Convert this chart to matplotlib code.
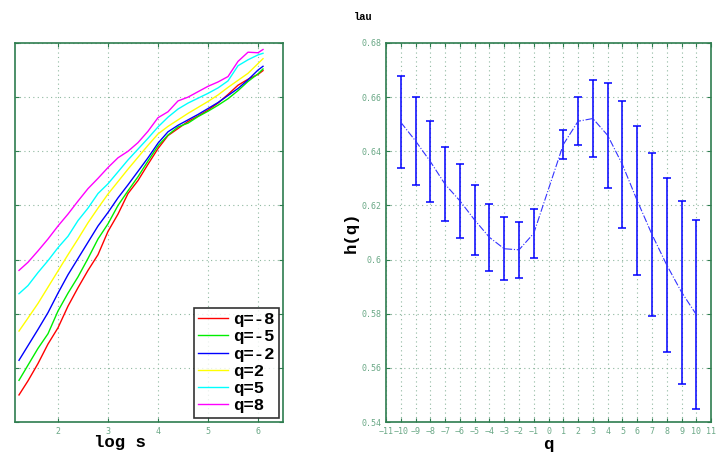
import matplotlib
matplotlib.use("Agg")
import matplotlib.pyplot as plt

# ── Datos: curvas log F(s) vs log s ─────────────────────────
log_s = [1.22, 1.4, 1.6, 1.8, 2.0, 2.2, 2.4, 2.6, 2.8, 3.0, 3.2, 3.4, 3.6,
         3.8, 4.0, 4.2, 4.4, 4.6, 4.8, 5.0, 5.2, 5.4, 5.6, 5.8, 6.0, 6.1]

f_q_m8 = [0.50, 0.76, 1.08, 1.44, 1.74, 2.14, 2.48, 2.80, 3.09, 3.52, 3.84,
          4.22, 4.46, 4.76, 5.05, 5.29, 5.42, 5.55, 5.65, 5.76, 5.89, 6.05,
          6.22, 6.33, 6.42, 6.49]
f_q_m5 = [0.77, 1.05, 1.36, 1.63, 2.05, 2.38, 2.68, 3.02, 3.38, 3.66, 4.00,
          4.27, 4.53, 4.82, 5.10, 5.30, 5.45, 5.52, 5.64, 5.74, 5.85, 5.97,
          6.12, 6.29, 6.43, 6.52]
f_q_m2 = [1.14, 1.41, 1.71, 2.02, 2.38, 2.72, 3.02, 3.32, 3.62, 3.87, 4.14,
          4.38, 4.63, 4.88, 5.15, 5.36, 5.48, 5.58, 5.68, 5.79, 5.90, 6.03,
          6.16, 6.32, 6.50, 6.57]
f_q_2 = [1.68, 1.92, 2.19, 2.49, 2.79, 3.09, 3.38, 3.68, 3.95, 4.21, 4.44,
         4.67, 4.89, 5.11, 5.32, 5.46, 5.58, 5.70, 5.81, 5.92, 6.04, 6.18,
         6.31, 6.44, 6.62, 6.71]
f_q_5 = [2.37, 2.52, 2.76, 2.98, 3.22, 3.43, 3.72, 3.95, 4.22, 4.40, 4.62,
         4.84, 5.04, 5.24, 5.45, 5.63, 5.78, 5.89, 5.98, 6.07, 6.17, 6.30,
         6.58, 6.69, 6.78, 6.81]
f_q_8 = [2.80, 2.95, 3.16, 3.38, 3.62, 3.84, 4.08, 4.31, 4.50, 4.70, 4.88,
         5.00, 5.16, 5.37, 5.62, 5.73, 5.93, 6.00, 6.10, 6.20, 6.28, 6.38,
         6.66, 6.83, 6.82, 6.88]

curvas = [("q=-8", f_q_m8, "#ff0000"), ("q=-5", f_q_m5, "#00ee00"),
          ("q=-2", f_q_m2, "#0000ff"), ("q=2", f_q_2, "#ffff00"),
          ("q=5", f_q_5, "#00ffff"), ("q=8", f_q_8, "#ff00ff")]

# ── Datos: exponente generalizado h(q) ──────────────────────
q_vals = [-10, -9, -8, -7, -6, -5, -4, -3, -2, -1,
          1, 2, 3, 4, 5, 6, 7, 8, 9, 10]
h_vals = [0.6507, 0.6438, 0.6362, 0.6278, 0.6217, 0.6146, 0.6082, 0.6040,
          0.6036, 0.6097, 0.6425, 0.6511, 0.6521, 0.6459, 0.6351, 0.6218,
          0.6093, 0.5980, 0.5880, 0.5797]
h_err = [0.0170, 0.0162, 0.0151, 0.0137, 0.0137, 0.0130, 0.0123, 0.0117,
         0.0104, 0.0091, 0.0054, 0.0089, 0.0142, 0.0193, 0.0234, 0.0274,
         0.0300, 0.0322, 0.0338, 0.0348]

# ── Estilo ──────────────────────────────────────────────────
SPINE = "#2e7d4f"
TICKLBL = "#6aa886"
GRID = "#8fb8a0"
MONO = "Liberation Mono"


def estilo_ejes(ax):
    for sp in ax.spines.values():
        sp.set_color(SPINE)
        sp.set_linewidth(1.2)
    ax.tick_params(direction="in", colors=SPINE, labelcolor=TICKLBL,
                   labelsize=6, length=3, top=True, right=True)
    for lbl in ax.get_xticklabels() + ax.get_yticklabels():
        lbl.set_family("DejaVu Sans Mono")
    ax.grid(True, linestyle=(0, (1, 3)), color=GRID, linewidth=0.8)


fig = plt.figure(figsize=(7.17, 4.55), dpi=100)
fig.patch.set_facecolor("#ffffff")

# ── Panel izquierdo ─────────────────────────────────────────
ax1 = fig.add_axes([0.0209, 0.0725, 0.3738, 0.833])
for nombre, vals, color in curvas:
    ax1.plot(log_s, vals, color=color, linewidth=1.0, label=nombre)
ax1.set_xlim(1.14, 6.5)
ax1.set_ylim(0, 7)
ax1.set_xticks([2, 3, 4, 5, 6])
ax1.set_yticks(range(0, 8))
estilo_ejes(ax1)
ax1.set_yticklabels([])
ax1.set_xlabel("log s", family=MONO, fontweight="bold", fontsize=12.5)
ax1.xaxis.set_label_coords(0.39, -0.033, transform=ax1.transAxes)
ax1.xaxis.label.set_va("top")
leg = ax1.legend(loc="lower right", prop={"family": MONO, "weight": "bold",
                                          "size": 12.5},
                 frameon=True, fancybox=False, handlelength=1.7,
                 borderaxespad=0.25, labelspacing=0.12, handletextpad=0.3,
                 borderpad=0.25)
leg.get_frame().set_edgecolor("black")
leg.get_frame().set_linewidth(1.2)

# ── Panel derecho ───────────────────────────────────────────
ax2 = fig.add_axes([0.5384, 0.0725, 0.4533, 0.833])
ax2.errorbar(q_vals, h_vals, yerr=h_err, fmt="none", ecolor="#0000ff",
             elinewidth=1.1, capsize=3, capthick=1.1)
ax2.plot(q_vals, h_vals, color="#3333ff", linestyle="-.", linewidth=0.8)
ax2.set_xlim(-11, 11)
ax2.set_ylim(0.54, 0.68)
ax2.set_xticks(range(-11, 12))
ax2.set_yticks([0.54, 0.56, 0.58, 0.6, 0.62, 0.64, 0.66, 0.68])
ax2.set_yticklabels(["0.54", "0.56", "0.58", "0.6", "0.62", "0.64",
                     "0.66", "0.68"])
ax2.set_xticklabels([str(v).replace("-", "\u2212") for v in range(-11, 12)])
estilo_ejes(ax2)
ax2.set_xlabel("q", family=MONO, fontweight="bold", fontsize=12.5, labelpad=1)
ax2.set_ylabel("h(q)", family=MONO, fontweight="bold", fontsize=12.5,
               labelpad=2)

fig.text(0.506, 0.962, "lau", family=MONO, fontweight="bold", fontsize=7.5,
         ha="center", va="center")

fig.savefig("out.png", dpi=100)
plt.close(fig)
